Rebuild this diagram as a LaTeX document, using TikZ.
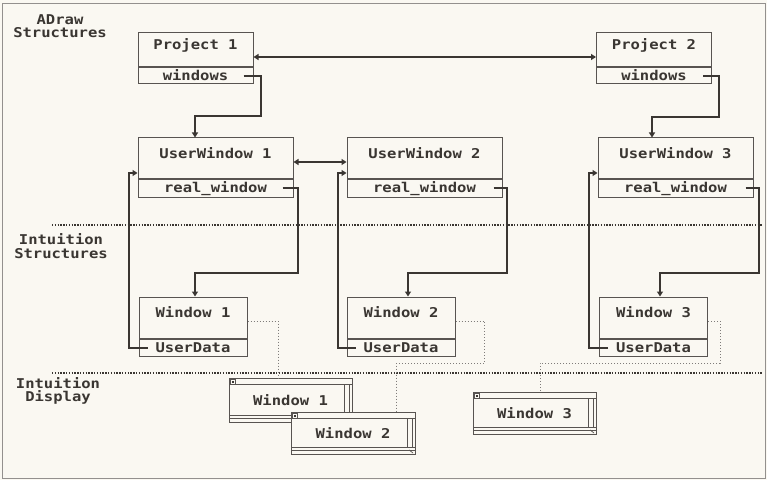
\documentclass[tikz,border=0pt]{standalone}
\usepackage{fontspec}
\newfontfamily\topaz[FakeStretch=1.15]{DejaVu Sans Mono}
\usetikzlibrary{arrows.meta,positioning,calc}
\definecolor{paper}{RGB}{250,248,242}
\definecolor{ink}{RGB}{58,54,50}

\begin{document}
\begin{tikzpicture}[
  x=1pt, y=1pt,
  font=\topaz\bfseries\fontsize{13.5}{13.5}\selectfont,
  box/.style={draw=ink!85, line width=1pt, fill=paper, inner sep=0pt, text=ink},
  hdr/.style={box, text height=9pt, text depth=9pt},
  fld/.style={box, text height=9pt, text depth=0pt},
  proj/.style={hdr, minimum width=115pt, minimum height=34pt},
  projf/.style={fld, minimum width=115pt, minimum height=16pt},
  uwin/.style={hdr, minimum width=155pt, minimum height=40pt},
  uwinf/.style={fld, minimum width=155pt, minimum height=18pt},
  iwin/.style={hdr, minimum width=108pt, minimum height=41pt},
  iwinf/.style={fld, minimum width=108pt, minimum height=17pt},
  scr/.style={draw=ink!85, line width=0.9pt, fill=paper, inner sep=0pt, text=ink,
    text height=10pt, text depth=0pt, minimum width=123pt, minimum height=42pt,
    path picture={
      \coordinate (nw) at (path picture bounding box.north west);
      \coordinate (se) at (path picture bounding box.south east);
      \begin{scope}[draw=ink!85, line width=0.7pt]
        % title bar and close gadget
        \draw ($(nw)+(0,-6)$) -- ($(se |- nw)+(0,-6)$);
        \draw ($(nw)+(1.5,-1)$) rectangle ($(nw)+(6.5,-6)$);
        \fill[ink] ($(nw)+(3,-2.5)$) rectangle ($(nw)+(5,-4.5)$);
        % right border
        \draw ($(se |- nw)+(-8,-6)$) -- ($(se)+(-8,7)$);
        \draw ($(se |- nw)+(-3,-6)$) -- ($(se)+(-3,7)$);
        % bottom border and sizing gadget
        \draw ($(nw |- se)+(0,7)$) -- ($(se)+(0,7)$);
        \draw ($(nw |- se)+(0,4)$) -- ($(se)+(0,4)$);
        \draw ($(se)+(-6,4)$) -- ($(se)+(-2,1)$);
      \end{scope}
    }},
  arr/.style={draw=ink, line width=2pt, -{Triangle[length=5pt,width=6pt]}},
  dbl/.style={arr, {Triangle[length=5pt,width=6pt]}-{Triangle[length=5pt,width=6pt]}},
  link/.style={draw=ink!65, line width=1pt, dotted},
  sep/.style={draw=ink, line width=1.4pt, dash pattern=on 1.4pt off 1.4pt},
  area/.style={align=center, text=ink, inner sep=0pt}
]
  \fill[paper] (0,0) rectangle (767,480);
  \useasboundingbox (0,0) rectangle (767,480);
  \draw[ink!55, line width=1pt] (2,2) rectangle (765,476);

  % section labels and separators
  \node[area] (adraw) at (60,454) {ADraw\\Structures};
  \node[area] (istruct) at (61,234) {Intuition\\Structures};
  \node[area] (idisp) at (58,89) {Intuition\\Display};
  \draw[sep] (52,255) -- (763,255);
  \draw[sep] (52,107) -- (763,107);

  % ADraw structures
  \node[proj] (P1) at (195.5,430) {Project 1};
  \node[projf, below=0pt of P1] (P1w) {windows};
  \node[proj] (P2) at (654,430) {Project 2};
  \node[projf, below=0pt of P2] (P2w) {windows};

  \node[uwin] (UW1) at (215.5,322) {UserWindow 1};
  \node[uwinf, below=0pt of UW1] (UW1r) {real\_window};
  \node[uwin] (UW2) at (424.5,322) {UserWindow 2};
  \node[uwinf, below=0pt of UW2] (UW2r) {real\_window};
  \node[uwin] (UW3) at (675.5,322) {UserWindow 3};
  \node[uwinf, below=0pt of UW3] (UW3r) {real\_window};

  % Intuition structures
  \node[iwin] (W1) at (193,162.5) {Window 1};
  \node[iwinf, below=0pt of W1] (W1u) {UserData};
  \node[iwin] (W2) at (401,162.5) {Window 2};
  \node[iwinf, below=0pt of W2] (W2u) {UserData};
  \node[iwin] (W3) at (653.5,162.5) {Window 3};
  \node[iwinf, below=0pt of W3] (W3u) {UserData};

  % Intuition display
  \node[scr, minimum height=44pt] (D1) at (290.5,80) {Window 1};
  \node[scr, minimum width=124pt] (D2) at (353,47) {Window 2};
  \node[scr] (D3) at (534.5,67) {Window 3};

  % pointers
  \draw[dbl] ([yshift=-7pt]P1.east) -- ([yshift=-7pt]P2.west);
  \draw[dbl] ([yshift=-4pt]UW1.east) -- ([yshift=-4pt]UW2.west);
  \draw[arr] ([xshift=-10pt]P1w.east) -| ++(17pt,-40pt) -| ([xshift=-20.5pt]UW1.north);
  \draw[arr] ([xshift=-9pt]P2w.east) -| ++(16pt,-41pt) -| ([xshift=-23.5pt]UW3.north);
  \draw[arr] ([xshift=-11pt]UW1r.east) -| ++(15pt,-85pt) -| ([xshift=2pt]W1.north);
  \draw[arr] ([xshift=-9pt]UW2r.east) -| ++(13pt,-85pt) -| ([xshift=7pt]W2.north);
  \draw[arr] ([xshift=-8pt]UW3r.east) -| ++(13pt,-85pt) -| ([xshift=6.5pt]W3.north);
  \draw[arr] ([xshift=9pt]W1u.west) -- ++(-19pt,0) |- ([yshift=-15pt]UW1.west);
  \draw[arr] ([xshift=9pt]W2u.west) -- ++(-18pt,0) |- ([yshift=-15pt]UW2.west);
  \draw[arr] ([xshift=9pt]W3u.west) -- ++(-19pt,0) |- ([yshift=-15pt]UW3.west);

  % windows on screen
  \draw[link] ([yshift=-3.5pt]W1.east) -| ([xshift=-12.5pt]D1.north);
  \draw[link] ([yshift=-3.5pt]W2.east) -| ++(29pt,-42pt) -| ([xshift=43pt]D2.north);
  \draw[link] ([yshift=-3.5pt]W3.east) -| ++(12pt,-42pt) -| ([xshift=5.5pt]D3.north);
\end{tikzpicture}
\end{document}
